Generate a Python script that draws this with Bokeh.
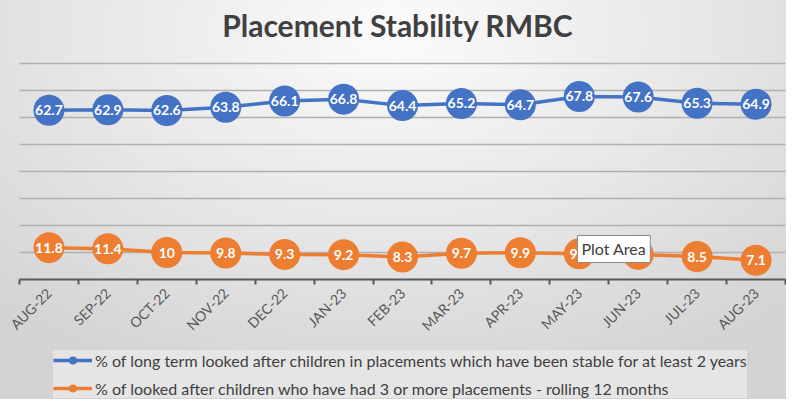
import math
from bokeh.plotting import figure
from bokeh.models import (Range1d, FixedTicker, CustomJSTickFormatter, Legend,
                          LegendItem, Label, ColumnDataSource)
from bokeh.core.properties import value
from bokeh.embed import file_html
from bokeh.resources import INLINE

# ---- data ----
months = ["AUG-22", "SEP-22", "OCT-22", "NOV-22", "DEC-22", "JAN-23", "FEB-23",
          "MAR-23", "APR-23", "MAY-23", "JUN-23", "JUL-23", "AUG-23"]
stable_2yrs = [62.7, 62.9, 62.6, 63.8, 66.1, 66.8, 64.4, 65.2, 64.7, 67.8, 67.6, 65.3, 64.9]
three_plus = [11.8, 11.4, 10.0, 9.8, 9.3, 9.2, 8.3, 9.7, 9.9, 9.5, 9.3, 8.5, 7.1]
series_names = [
    "% of long term looked after children in placements which have been stable for at least 2 years",
    "% of looked after children who have had 3 or more placements - rolling 12 months",
]
grid_values = [10, 20, 30, 40, 50, 60, 70, 80]
title_text = "Placement Stability RMBC"

FONT = "Lato"
BLUE = "#4472C4"
ORANGE = "#ED7D31"

# ---- layout (pixels) ----
W, H = 786, 399
LEFT_PX, RIGHT_PX = 19, 785     # x extent of the category axis
AXIS_TOP_PX = 63                # where the value 80 sits, from the top
AXIS_BOTTOM_PX = 279            # where the value 0 sits
Y_MAX = 80
N = len(months)
PY = (AXIS_BOTTOM_PX - AXIS_TOP_PX) / Y_MAX
PX = (RIGHT_PX - LEFT_PX) / N
y_end = Y_MAX + AXIS_TOP_PX / PY
y_start = -(H - AXIS_BOTTOM_PX) / PY
x_start = -LEFT_PX / PX
x_end = N + (W - RIGHT_PX) / PX


def fmt(v):
    return ("%g" % v)


xs = [i + 0.5 for i in range(N)]

p = figure(width=W, height=H, output_backend="svg", toolbar_location=None,
           x_range=Range1d(x_start, x_end), y_range=Range1d(y_start, y_end),
           min_border_left=0, min_border_right=0, min_border_top=0,
           min_border_bottom=0)

p.styles = {"background": "radial-gradient(ellipse 75% 95% at 50% 8%, #fbfbfb 0%, #e6e6e6 55%, #d3d3d3 100%)"}
p.border_fill_color = None
p.background_fill_color = None
p.outline_line_color = None

# axes
p.yaxis.visible = False
xa = p.xaxis[0]
xa.fixed_location = 0
xa.bounds = (0, N)
xa.ticker = FixedTicker(ticks=xs, minor_ticks=list(range(N + 1)))
xa.formatter = CustomJSTickFormatter(args=dict(labels=months),
                                     code="return labels[Math.floor(tick)] || '';")
xa.major_tick_line_color = None
xa.minor_tick_in = 0
xa.minor_tick_out = 5
xa.minor_tick_line_color = "#595959"
xa.minor_tick_line_width = 2
xa.axis_line_color = "#595959"
xa.axis_line_width = 2
xa.major_label_orientation = math.pi / 4
xa.major_label_text_font = FONT
xa.major_label_text_font_size = "14px"
xa.major_label_text_color = "#595959"
xa.major_label_standoff = 5

p.xgrid.visible = False
grid = p.ygrid[0]
grid.ticker = FixedTicker(ticks=grid_values)
grid.grid_line_color = "#b0b0b0"
grid.grid_line_width = 1.4
try:
    grid.cross_bounds = (0, N)
except Exception:
    grid.visible = False
    p.segment(x0=[0] * len(grid_values), x1=[N] * len(grid_values),
              y0=grid_values, y1=grid_values, line_color="#b0b0b0", line_width=1.4)

# title (inside the frame, above the value range)
title = Label(x=6.42, y=y_end - 24 / PY, text=title_text,
              text_font=FONT, text_font_size="30px", text_font_style="bold",
              text_color="#404040", text_align="center", text_baseline="middle")
p.add_layout(title)

# series
items = []
for vals, col, name in [(stable_2yrs, BLUE, series_names[0]),
                        (three_plus, ORANGE, series_names[1])]:
    src = ColumnDataSource(dict(x=xs, y=vals, lab=[fmt(v) for v in vals]))
    ln = p.line("x", "y", source=src, line_color=col, line_width=3.5)
    sc = p.scatter("x", "y", source=src, size=31, fill_color=col, line_color=None)
    p.text("x", "y", text="lab", source=src, text_align="center",
           text_baseline="middle", text_color="white", text_font=value(FONT),
           text_font_size="14px", text_font_style="bold")
    items.append(LegendItem(label=name, renderers=[ln, sc]))

legend = Legend(items=items, location=(53, 1), orientation="vertical",
                background_fill_color="#e8e8e8", background_fill_alpha=0.85,
                border_line_color=None, glyph_width=39, glyph_height=20,
                label_standoff=3, spacing=8, padding=4, margin=0,
                label_text_font=FONT, label_text_font_size="16px",
                label_text_color="#404040", label_height=20)
p.add_layout(legend, "center")

# Excel hover tooltip visible in the reference
tip = Label(x=9.47, y=11.3, text="Plot Area", text_font=FONT, text_font_size="16px",
            text_color="#404040", text_baseline="middle",
            background_fill_color="white", border_line_color="#8c8c8c",
            padding=4)
p.add_layout(tip)

open("out.html", "w").write(file_html(p, INLINE))
